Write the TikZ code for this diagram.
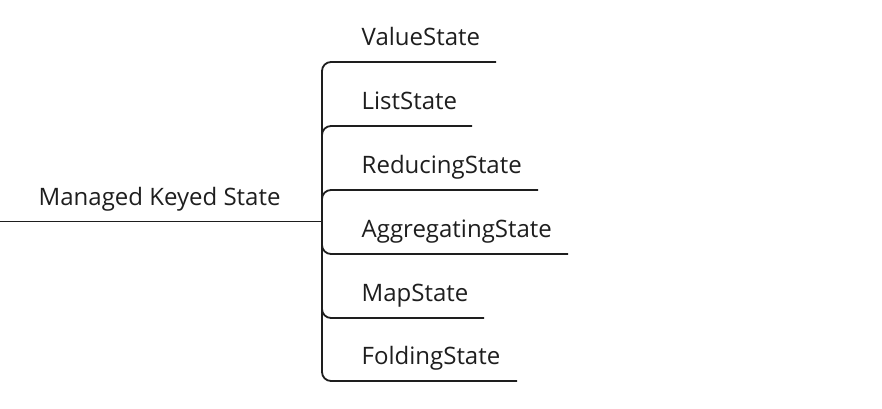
\documentclass[tikz,border=0pt]{standalone}
\usepackage{fontspec}
\setmainfont{Open Sans}
\definecolor{ink}{HTML}{1E1E1E}
\begin{document}
\begin{tikzpicture}[x=1pt,y=-1pt,
  lbl/.style={anchor=base west,inner sep=0pt,text=ink,font=\fontsize{24}{29}\selectfont},
  branch/.style={draw=ink,line width=1.8pt,rounded corners=9pt},
  rootline/.style={draw=ink,line width=1.8pt}]
\useasboundingbox (0,0) rectangle (882,408);
\coordinate (s) at (0,221.5);
\coordinate (j) at (322,221.5);
\node[lbl] (root) at (38.5,205) {Managed Keyed State};
\draw[rootline] (s) -- (j);
\coordinate (e1) at (496,62);
\coordinate (e2) at (472,126);
\coordinate (e3) at (538,190);
\coordinate (e4) at (568,254);
\coordinate (e5) at (484,318);
\coordinate (e6) at (517,381);
\node[lbl] (n1) at (361.5,45) {ValueState};
\node[lbl] (n2) at (361.5,109.5) {ListState};
\node[lbl] (n3) at (361.5,173) {ReducingState};
\node[lbl] (n4) at (361.5,237) {AggregatingState};
\node[lbl] (n5) at (361.5,301) {MapState};
\node[lbl] (n6) at (361.5,364.5) {FoldingState};
\foreach \e in {e1,e2,e3,e4,e5,e6}{
  \draw[branch] (j) |- (\e);
}
\end{tikzpicture}
\end{document}
